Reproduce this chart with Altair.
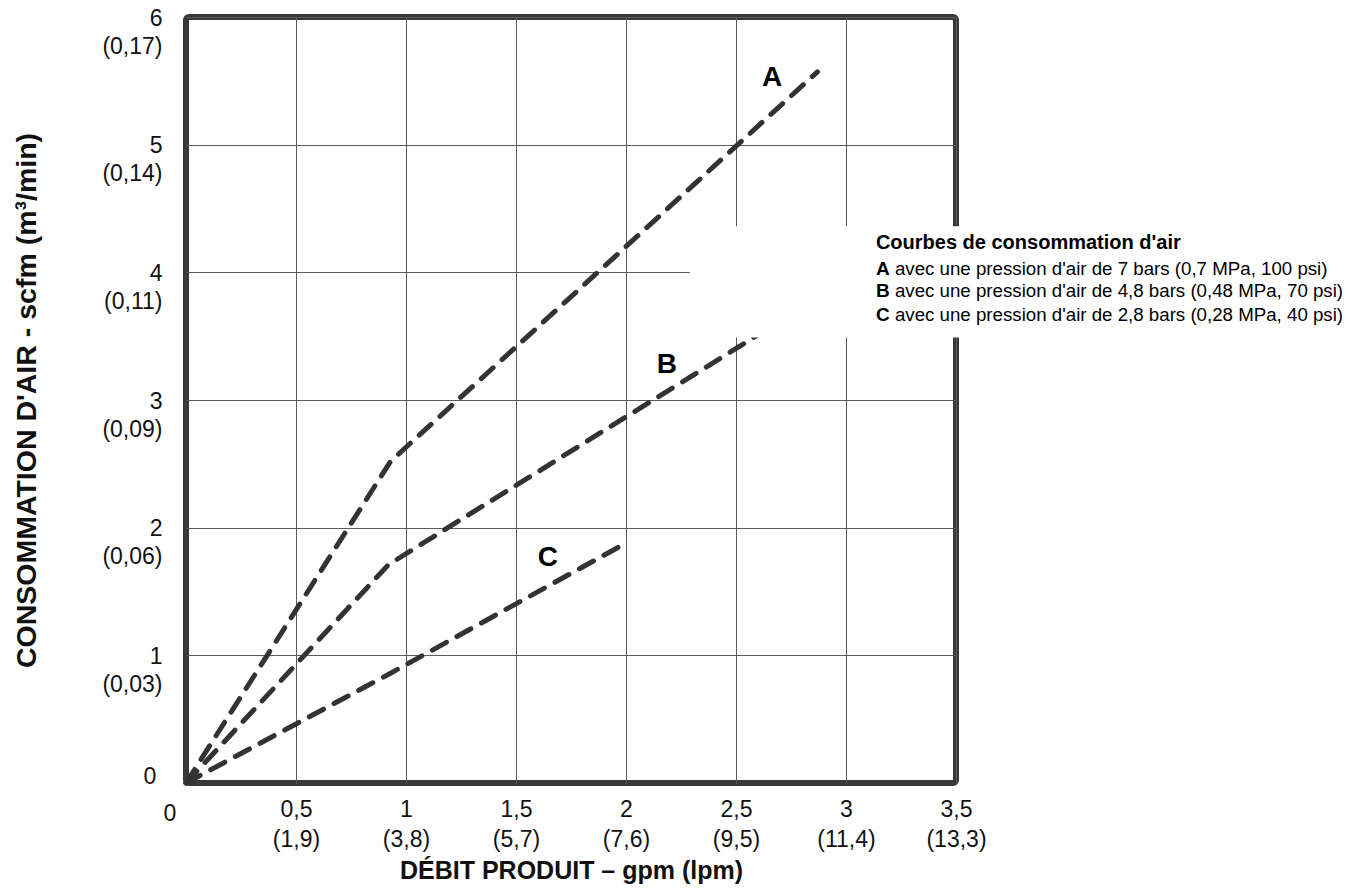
import altair as alt
import pandas as pd

# ---------------- data ----------------
curve_names = ["A", "B", "C"]
curve_a_x = [0.0, 0.93, 2.87]
curve_a_y = [0.0, 2.52, 5.57]
curve_b_x = [0.0, 0.92, 2.87]
curve_b_y = [0.0, 1.71, 3.80]
curve_c_x = [0.0, 0.93, 2.0]
curve_c_y = [0.0, 0.86, 1.88]

x_tick_values = [0.5, 1, 1.5, 2, 2.5, 3, 3.5]
x_tick_gpm = ["0,5", "1", "1,5", "2", "2,5", "3", "3,5"]
x_tick_lpm = ["(1,9)", "(3,8)", "(5,7)", "(7,6)", "(9,5)", "(11,4)", "(13,3)"]

y_tick_values = [1, 2, 3, 4, 5, 6]
y_tick_scfm = ["1", "2", "3", "4", "5", "6"]
y_tick_m3 = ["(0,03)", "(0,06)", "(0,09)", "(0,11)", "(0,14)", "(0,17)"]

legend_title = "Courbes de consommation d'air"
legend_texts = [
    "avec une pression d'air de 7 bars (0,7 MPa, 100 psi)",
    "avec une pression d'air de 4,8 bars (0,48 MPa, 70 psi)",
    "avec une pression d'air de 2,8 bars (0,28 MPa, 40 psi)",
]

x_title = "DÉBIT PRODUIT – gpm (lpm)"
y_title = "CONSOMMATION D'AIR - scfm (m³/min)"

# ---------------- annotation placement (layout, not data) ----------------
curve_label_x = [2.664, 2.186, 1.645]
curve_label_y = [5.525, 3.277, 1.766]
legend_x = 3.136
legend_title_y = 4.230
legend_line_y = [4.030, 3.850, 3.663]
box_x, box_x2, box_y, box_y2 = 2.29, 5.4, 4.36, 3.49

FONT = "Liberation Sans"
INK = "#333333"

# ---------------- tables ----------------
rows = []
for name, xs, ys in zip(curve_names, [curve_a_x, curve_b_x, curve_c_x],
                        [curve_a_y, curve_b_y, curve_c_y]):
    for i, (xv, yv) in enumerate(zip(xs, ys)):
        rows.append({"curve": name, "order": i, "x": xv, "y": yv})
curves_df = pd.DataFrame(rows)

labels_df = pd.DataFrame({"curve": curve_names, "x": curve_label_x, "y": curve_label_y})
legend_df = pd.DataFrame({"letter": curve_names, "text": legend_texts,
                          "x": [legend_x] * 3, "y": legend_line_y})
legend_title_df = pd.DataFrame({"text": [legend_title], "x": [legend_x], "y": [legend_title_y]})
box_df = pd.DataFrame({"x": [box_x], "x2": [box_x2], "y": [box_y], "y2": [box_y2]})
zero_df = pd.DataFrame({"x": [0.0], "y": [0.0], "t": ["0"]})

def js_label_expr(values, first, second):
    arr = ",".join(f"['{a}','{b}']" for a, b in zip(first, second))
    vals = ",".join(str(v) for v in values)
    return f"[{arr}][indexof([{vals}], datum.value)]"

x_axis = alt.Axis(
    values=x_tick_values, labelExpr=js_label_expr(x_tick_values, x_tick_gpm, x_tick_lpm),
    grid=True, gridColor="#5a5a5a", gridWidth=1, ticks=False, domain=False,
    labelFont=FONT, labelFontSize=23, labelColor="#111111", labelPadding=15,
    labelLineHeight=30, labelOverlap=False, labelFlush=False, labelBaseline="top",
    title=x_title, titleFont=FONT, titleFontSize=25, titleFontWeight="bold",
    titleColor="#111111", titleBaseline="alphabetic", titleY=95,
)
y_axis = alt.Axis(
    values=y_tick_values, labelExpr=js_label_expr(y_tick_values, y_tick_scfm, y_tick_m3),
    grid=True, gridColor="#5a5a5a", gridWidth=1, ticks=False, domain=False,
    labelFont=FONT, labelFontSize=23, labelColor="#111111", labelPadding=24,
    labelLineHeight=28, labelOverlap=False, labelFlush=False, labelBaseline="alphabetic",
    labelOffset=8, labelAlign="right",
    title=y_title, titleFont=FONT, titleFontSize=28.5, titleFontWeight="bold",
    titleColor="#111111", titleBaseline="alphabetic", titleX=-151,
)

x_scale = alt.Scale(domain=[0, 3.5], nice=False, zero=False)
y_scale = alt.Scale(domain=[0, 6], nice=False, zero=False)
X = alt.X("x:Q", scale=x_scale, axis=x_axis)
Y = alt.Y("y:Q", scale=y_scale, axis=y_axis)

lines = alt.Chart(curves_df).mark_line(
    color=INK, strokeWidth=5, strokeDash=[16, 12], strokeCap="round", strokeJoin="round"
).encode(x=X, y=Y, detail="curve:N", order="order:Q")

box = alt.Chart(box_df).mark_rect(color="white", opacity=1).encode(
    x=X, x2="x2:Q", y=Y, y2="y2:Q")

curve_labels = alt.Chart(labels_df).mark_text(
    font=FONT, fontSize=28, fontWeight="bold", color="black", align="center", baseline="middle"
).encode(x=X, y=Y, text="curve:N")

leg_title = alt.Chart(legend_title_df).mark_text(
    font=FONT, fontSize=20, fontWeight="bold", color="black", align="left", baseline="middle"
).encode(x=X, y=Y, text="text:N")

leg_letters = alt.Chart(legend_df).mark_text(
    font=FONT, fontSize=19, fontWeight="bold", color="black", align="left", baseline="middle"
).encode(x=X, y=Y, text="letter:N")

leg_texts = alt.Chart(legend_df).mark_text(
    font=FONT, fontSize=18.7, color="black", align="left", baseline="middle", dx=19
).encode(x=X, y=Y, text="text:N")

zero_x = alt.Chart(zero_df).mark_text(
    font=FONT, fontSize=23, color="#111111", align="center", baseline="middle", dx=-16, dy=31
).encode(x=X, y=Y, text="t:N")
zero_y = alt.Chart(zero_df).mark_text(
    font=FONT, fontSize=23, color="#111111", align="center", baseline="middle", dx=-36, dy=-6
).encode(x=X, y=Y, text="t:N")

chart = alt.layer(
    lines, box, curve_labels, leg_title, leg_letters, leg_texts, zero_x, zero_y
).properties(
    width=770, height=766,
    autosize=alt.AutoSizeParams(type="none"),
    padding={"left": 178, "top": 9, "right": 392, "bottom": 110},
    background="white",
).configure_view(
    stroke="#383838", strokeWidth=6, cornerRadius=3
)

chart.save("out.html", embed_options={"renderer": "svg", "actions": False})
